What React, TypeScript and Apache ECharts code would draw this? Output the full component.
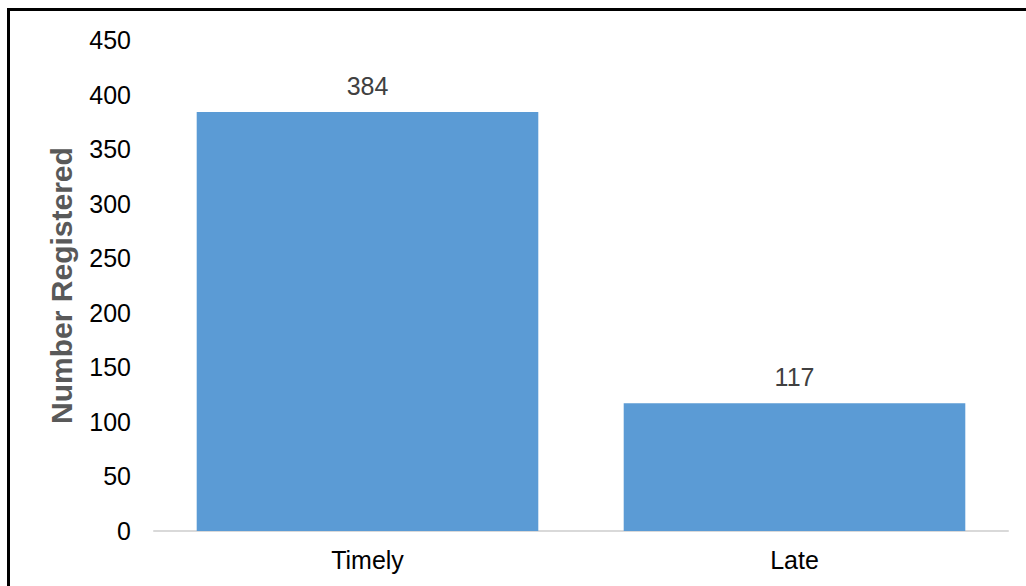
import React, { useEffect, useRef } from "react";
import * as echarts from "echarts";

const categories = ["Timely", "Late"];
const values = [384, 117];
const yTicks = { min: 0, max: 450, interval: 50 };
const yName = "Number Registered";

export default function App() {
  const ref = useRef<HTMLDivElement>(null);
  useEffect(() => {
    if (!ref.current) return;
    const chart = echarts.init(ref.current, null, { renderer: "svg" });
    chart.setOption({
      animation: false,
      textStyle: { fontFamily: "Liberation Sans, Arial, sans-serif" },
      grid: { left: 154, right: 18, top: 40, bottom: 55, containLabel: false },
      graphic: [
        { type: "line", shape: { x1: 8, y1: 9.5, x2: 1026, y2: 9.5 }, style: { stroke: "#000", lineWidth: 3 } },
        { type: "line", shape: { x1: 8.5, y1: 8, x2: 8.5, y2: 586 }, style: { stroke: "#000", lineWidth: 3 } },
      ],
      xAxis: {
        type: "category",
        data: categories,
        axisLine: { lineStyle: { color: "#d9d9d9", width: 2 } },
        axisTick: { show: false },
        axisLabel: { color: "#000", fontSize: 25, margin: 16 },
      },
      yAxis: {
        type: "value",
        min: yTicks.min,
        max: yTicks.max,
        interval: yTicks.interval,
        name: yName,
        nameLocation: "middle",
        nameGap: 78,
        nameTextStyle: { color: "#595959", fontSize: 30, fontWeight: "bold" },
        axisLine: { show: false },
        axisTick: { show: false },
        splitLine: { show: false },
        axisLabel: { color: "#000", fontSize: 25, margin: 23 },
      },
      series: [
        {
          type: "bar",
          data: values,
          barWidth: "80%",
          itemStyle: { color: "#5b9bd5" },
          label: { show: true, position: "top", distance: 14, color: "#404040", fontSize: 25 },
        },
      ],
    });
    return () => chart.dispose();
  }, []);
  return (
    <div style={{ position: "absolute", left: 0, top: 0, width: 1026, height: 586, background: "#fff" }}>
      <div ref={ref} style={{ width: 1026, height: 586 }} />
    </div>
  );
}
